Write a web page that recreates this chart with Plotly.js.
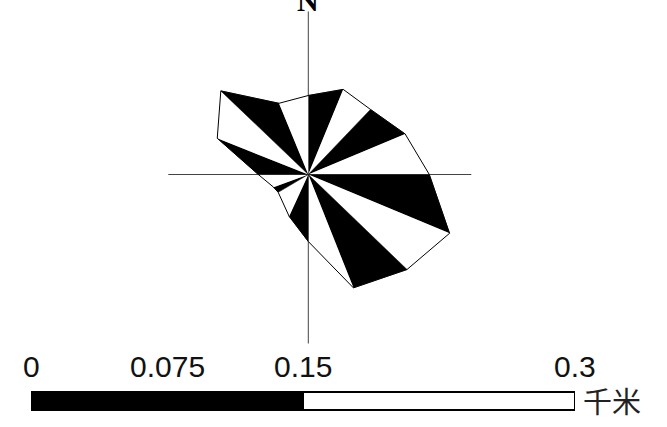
<!DOCTYPE html>
<html>
<head>
<meta charset="utf-8">
<script src="https://cdn.plot.ly/plotly-3.0.1.min.js"></script>
<style>
  html, body { margin: 0; padding: 0; background: #fff; }
  #chart { width: 667px; height: 427px; }
</style>
</head>
<body>
<div id="chart"></div>
<script>
// rose vertices: bearing (deg, clockwise from north) and length
var directions = [0, 22.3, 43.7, 67.3, 90, 112.6, 133.9, 158.3, 180, 204.6, 239.3, 250, 270, 291.7, 313.7, 337.6];
var lengths = [79, 92, 90, 105, 121, 153, 137, 122, 67, 46, 35, 37, 50, 98, 121, 77];

// scale bar (km)
var scaleTicks = [0, 0.075, 0.15, 0.3];
var scaleLabels = ['0', '0.075', '0.15', '0.3'];
var scaleUnit = '千米';

// crosshair arm lengths: N, E, S, W
var crossTheta = [0, 90, 180, 270];
var crossLen = [163, 163, 169, 140];

var R = 170;            // polar radius in px
var cx = 308.3, cy = 174.5;
var W = 667, H = 427;

var traces = [];

// crosshair
for (var k = 0; k < crossTheta.length; k++) {
    traces.push({
        type: 'scatterpolar',
        r: [0, crossLen[k]],
        theta: [crossTheta[k], crossTheta[k]],
        mode: 'lines',
        line: {color: '#444', width: 1},
        hoverinfo: 'skip',
        showlegend: false
    });
}

// alternating black / white sectors
for (var i = 0; i < directions.length; i++) {
    var j = (i + 1) % directions.length;
    var black = i % 2 == 0;
    traces.push({
        type: 'scatterpolar',
        r: [0, lengths[i], lengths[j], 0],
        theta: [directions[i], directions[i], directions[j], directions[i]],
        mode: 'lines',
        fill: 'toself',
        fillcolor: black ? '#000' : '#fff',
        line: {color: black ? '#000' : 'rgba(0,0,0,0)', width: black ? 0.5 : 0},
        hoverinfo: 'skip',
        showlegend: false
    });
}

// outline
traces.push({
    type: 'scatterpolar',
    r: lengths.concat([lengths[0]]),
    theta: directions.concat([directions[0]]),
    mode: 'lines',
    line: {color: '#000', width: 1},
    hoverinfo: 'skip',
    showlegend: false
});

// dummy trace to hold the scale bar axes
traces.push({
    type: 'scatter',
    x: [scaleTicks[0], scaleTicks[scaleTicks.length - 1]],
    y: [0, 0],
    mode: 'markers',
    marker: {opacity: 0},
    hoverinfo: 'skip',
    showlegend: false,
    xaxis: 'x',
    yaxis: 'y'
});

var barTop = 392, barBot = 410;
var half = scaleTicks[2];
var last = scaleTicks[scaleTicks.length - 1];

var shapes = [
    {type: 'rect', xref: 'x', yref: 'paper', x0: 0, x1: half,
     y0: (H - barBot) / H, y1: (H - barTop) / H,
     fillcolor: '#000', line: {color: '#000', width: 2}},
    {type: 'rect', xref: 'x', yref: 'paper', x0: half, x1: last,
     y0: (H - barBot) / H, y1: (H - barTop) / H,
     fillcolor: '#fff', line: {color: '#000', width: 2}}
];

var annotations = scaleTicks.map(function(t, n) {
    return {
        x: t, xref: 'x', y: (H - 366) / H, yref: 'paper',
        text: scaleLabels[n], showarrow: false,
        xanchor: 'center', yanchor: 'middle',
        font: {family: 'Liberation Sans, Arial, sans-serif', size: 30, color: '#111'}
    };
});
annotations.push({
    x: 581 / W, xref: 'paper', y: (H - 399.5) / H, yref: 'paper',
    text: scaleUnit, showarrow: false, xanchor: 'left', yanchor: 'middle',
    font: {family: 'Noto Sans CJK SC, sans-serif', size: 29, color: '#222'}
});
annotations.push({
    x: cx / W, xref: 'paper', y: (H - 19) / H, yref: 'paper',
    text: 'N', showarrow: false, xanchor: 'center', yanchor: 'bottom',
    font: {family: 'Liberation Serif, Times New Roman, serif', size: 30, color: '#000', weight: 'bold'}
});

var layout = {
    width: W,
    height: H,
    margin: {l: 0, r: 0, t: 0, b: 0},
    paper_bgcolor: '#fff',
    plot_bgcolor: 'rgba(0,0,0,0)',
    showlegend: false,
    polar: {
        domain: {x: [(cx - R) / W, (cx + R) / W], y: [(H - cy - R) / H, (H - cy + R) / H]},
        bgcolor: 'rgba(0,0,0,0)',
        radialaxis: {range: [0, R], visible: false, showgrid: false},
        angularaxis: {visible: false, showgrid: false, direction: 'clockwise', rotation: 90}
    },
    xaxis: {domain: [31 / W, 575 / W], range: [0, last], visible: false, fixedrange: true},
    yaxis: {domain: [0, 0.1], range: [-1, 1], visible: false, fixedrange: true},
    shapes: shapes,
    annotations: annotations
};

Plotly.newPlot('chart', traces, layout, {displayModeBar: false, staticPlot: true});
</script>
</body>
</html>
